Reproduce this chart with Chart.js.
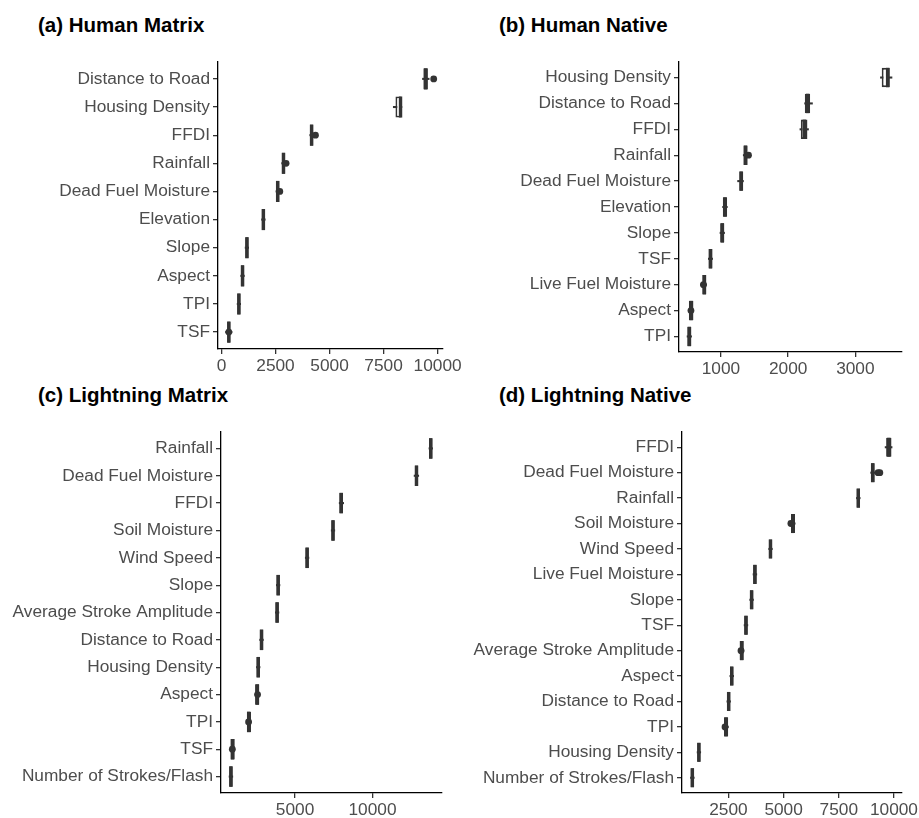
<!DOCTYPE html>
<html>
<head>
<meta charset="utf-8">
<script src="https://cdn.jsdelivr.net/npm/chart.js@4.4.0/dist/chart.umd.min.js"></script>
<style>
  html, body { margin: 0; padding: 0; background: #fff; overflow: hidden; }
  #page { position: relative; width: 919px; height: 818px; }
  .ttl { position: absolute; font: bold 20.5px 'Liberation Sans', Arial, sans-serif; color: #000; line-height: 20px; white-space: nowrap; }
  canvas { position: absolute; }
</style>
</head>
<body>
<div id="page">
  <div class="ttl" style="left:38px;top:15px">(a) Human Matrix</div>
  <div class="ttl" style="left:499px;top:15px">(b) Human Native</div>
  <div class="ttl" style="left:38px;top:385px">(c) Lightning Matrix</div>
  <div class="ttl" style="left:499px;top:385px">(d) Lightning Native</div>
  <canvas id="ca" width="473" height="350" style="left:0;top:40px"></canvas>
  <canvas id="cb" width="465" height="350" style="left:470px;top:40px"></canvas>
  <canvas id="cc" width="473" height="408" style="left:0;top:410px"></canvas>
  <canvas id="cd" width="465" height="408" style="left:470px;top:410px"></canvas>
</div>
<script>
// (a) Human Matrix
var labelsA = ['Distance to Road', 'Housing Density', 'FFDI', 'Rainfall', 'Dead Fuel Moisture', 'Elevation', 'Slope', 'Aspect', 'TPI', 'TSF'];
var loA  = [9300, 7950, 4085, 2785, 2520, 1855, 1095, 890, 725, 190];
var q1A  = [9340, 8050, 4090, 2790, 2525, 1860, 1100, 895, 730, 265];
var medA = [9450, 8285, 4170, 2870, 2600, 1940, 1180, 975, 805, 340];
var q3A  = [9550, 8310, 4250, 2950, 2685, 2020, 1255, 1055, 885, 420];
var hiA  = [9610, 8350, 4255, 2955, 2690, 2025, 1260, 1060, 890, 490];
var outA = [['Distance to Road', 9820], ['FFDI', 4350], ['Rainfall', 2990], ['Dead Fuel Moisture', 2700], ['TSF', 340]];
var ticksA = [0, 2500, 5000, 7500, 10000];

// (b) Human Native
var labelsB = ['Housing Density', 'Distance to Road', 'FFDI', 'Rainfall', 'Dead Fuel Moisture', 'Elevation', 'Slope', 'TSF', 'Live Fuel Moisture', 'Aspect', 'TPI'];
var loB  = [3373, 2245, 2175, 1332, 1248, 1025, 986, 812, 695, 520, 496];
var q1B  = [3392, 2248, 2188, 1335, 1273, 1028, 989, 815, 723, 523, 499];
var medB = [3480, 2290, 2240, 1365, 1300, 1060, 1020, 845, 752, 556, 530];
var q3B  = [3513, 2327, 2287, 1397, 1332, 1092, 1051, 873, 784, 591, 560];
var hiB  = [3545, 2362, 2303, 1400, 1335, 1095, 1054, 876, 787, 594, 563];
var outB = [['Rainfall', 1410], ['Live Fuel Moisture', 740], ['Aspect', 554]];
var ticksB = [1000, 2000, 3000];

// (c) Lightning Matrix
var labelsC = ['Rainfall', 'Dead Fuel Moisture', 'FFDI', 'Soil Moisture', 'Wind Speed', 'Slope', 'Average Stroke Amplitude', 'Distance to Road', 'Housing Density', 'Aspect', 'TPI', 'TSF', 'Number of Strokes/Flash'];
var loC  = [13645, 12685, 7850, 7335, 5660, 3790, 3725, 2715, 2505, 2415, 1880, 830, 740];
var q1C  = [13650, 12730, 7855, 7340, 5665, 3795, 3730, 2720, 2510, 2420, 1885, 835, 745];
var medC = [13760, 12840, 7980, 7450, 5780, 3910, 3840, 2835, 2620, 2560, 2010, 960, 860];
var q3C  = [13875, 12950, 8100, 7560, 5890, 4020, 3955, 2950, 2735, 2695, 2155, 1105, 975];
var hiC  = [13880, 12985, 8140, 7565, 5895, 4025, 3960, 2955, 2740, 2700, 2160, 1110, 980];
var outC = [['Aspect', 2580], ['TPI', 2000], ['TSF', 950]];
var ticksC = [5000, 10000];

// (d) Lightning Native
var labelsD = ['FFDI', 'Dead Fuel Moisture', 'Rainfall', 'Soil Moisture', 'Wind Speed', 'Live Fuel Moisture', 'Slope', 'TSF', 'Average Stroke Amplitude', 'Aspect', 'Distance to Road', 'TPI', 'Housing Density', 'Number of Strokes/Flash'];
var loD  = [9600, 8945, 8300, 5325, 4325, 3615, 3465, 3210, 3000, 2565, 2430, 2295, 1080, 780];
var q1D  = [9645, 8950, 8305, 5330, 4330, 3620, 3470, 3215, 3005, 2570, 2435, 2300, 1085, 785];
var medD = [9770, 9040, 8385, 5420, 4405, 3700, 3550, 3295, 3100, 2650, 2510, 2390, 1160, 865];
var q3D  = [9890, 9125, 8465, 5520, 4485, 3780, 3630, 3375, 3195, 2730, 2590, 2490, 1240, 945];
var hiD  = [9915, 9130, 8470, 5525, 4490, 3785, 3635, 3380, 3200, 2735, 2595, 2495, 1245, 950];
var outD = [['Dead Fuel Moisture', 9280], ['Dead Fuel Moisture', 9360], ['Soil Moisture', 5330], ['Average Stroke Amplitude', 3070], ['TPI', 2345]];
var ticksD = [2500, 5000, 7500, 10000];

var ink = '#333333';
Chart.defaults.font.family = "'Liberation Sans', Arial, sans-serif";
Chart.defaults.font.size = 17.3;

// box = canvas placement on page, area = wanted plot area on page
// rows sit on a linear y scale (index 0 at top) padded by 0.6 of a row, like ggplot
function makePanel(id, box, area, labels, lo, q1, med, q3, hi, outs, xMin, xMax, xTicks) {
  var idx = labels.map(function (l, i) { return i; });
  new Chart(document.getElementById(id), {
    type: 'bar',
    data: {
      datasets: [
        {
          // whiskers
          type: 'bar',
          data: idx.map(function (i) { return { y: i, x: [lo[i], hi[i]] }; }),
          backgroundColor: ink,
          barThickness: 1.4,
          grouped: false,
          order: 3
        },
        {
          // boxes
          type: 'bar',
          data: idx.map(function (i) { return { y: i, x: [q1[i], q3[i]] }; }),
          backgroundColor: '#ffffff',
          borderColor: ink,
          borderWidth: 1.9,
          borderSkipped: false,
          barPercentage: 0.75,
          categoryPercentage: 1,
          grouped: false,
          order: 2
        },
        {
          // medians (drawn thick, like ggplot's fatten)
          type: 'scatter',
          data: idx.map(function (i) { return { x: med[i], y: i }; }),
          pointStyle: 'line',
          pointRotation: 90,
          pointRadius: function (ctx) {
            var s = ctx.chart.scales.y;
            if (!s) return 10;
            return Math.abs(s.getPixelForValue(1) - s.getPixelForValue(0)) * 0.375;
          },
          pointBorderColor: ink,
          pointBorderWidth: 3.4,
          order: 1
        },
        {
          // outliers
          type: 'scatter',
          data: outs.map(function (o) { return { x: o[1], y: labels.indexOf(o[0]) }; }),
          pointRadius: 3.4,
          pointBackgroundColor: ink,
          pointBorderWidth: 0,
          order: 0
        }
      ]
    },
    options: {
      indexAxis: 'y',
      responsive: false,
      animation: false,
      layout: {
        padding: { top: area.t - box.top, right: box.left + box.w - area.r, left: 0, bottom: 0 }
      },
      plugins: {
        legend: { display: false },
        tooltip: { enabled: false }
      },
      scales: {
        x: {
          type: 'linear',
          position: 'bottom',
          min: xMin,
          max: xMax,
          afterBuildTicks: function (s) { s.ticks = xTicks.map(function (v) { return { value: v }; }); },
          afterFit: function (s) { s.height = box.top + box.h - area.b; },
          border: { color: '#000', width: 1.3 },
          grid: { drawOnChartArea: false, color: ink, tickLength: 5, lineWidth: 1.3 },
          ticks: { color: '#4d4d4d', padding: 2, maxRotation: 0, callback: function (v) { return String(v); } }
        },
        y: {
          type: 'linear',
          position: 'left',
          reverse: true,
          offset: false,
          min: -0.6,
          max: labels.length - 0.4,
          afterBuildTicks: function (s) { s.ticks = idx.map(function (i) { return { value: i }; }); },
          afterFit: function (s) { s.width = area.l - box.left; },
          border: { color: '#000', width: 1.3 },
          grid: { offset: false, drawOnChartArea: false, color: ink, tickLength: 5, lineWidth: 1.3 },
          ticks: { color: '#4d4d4d', padding: 3, autoSkip: false, callback: function (v) { return labels[v]; } }
        }
      }
    }
  });
}

makePanel('ca', { left: 0, top: 40, w: 473, h: 350 }, { l: 218, t: 62, r: 443, b: 349 },
  labelsA, loA, q1A, medA, q3A, hiA, outA, -160, 10250, ticksA);
makePanel('cb', { left: 470, top: 40, w: 465, h: 350 }, { l: 679, t: 62, r: 902, b: 352 },
  labelsB, loB, q1B, medB, q3B, hiB, outB, 376, 3694, ticksB);
makePanel('cc', { left: 0, top: 410, w: 473, h: 408 }, { l: 221, t: 432, r: 442, b: 793 },
  labelsC, loC, q1C, medC, q3C, hiC, outC, 219, 14487, ticksC);
makePanel('cd', { left: 470, top: 410, w: 465, h: 408 }, { l: 682, t: 432, r: 902, b: 793 },
  labelsD, loD, q1D, medD, q3D, hiD, outD, 396, 10365, ticksD);
</script>
</body>
</html>
